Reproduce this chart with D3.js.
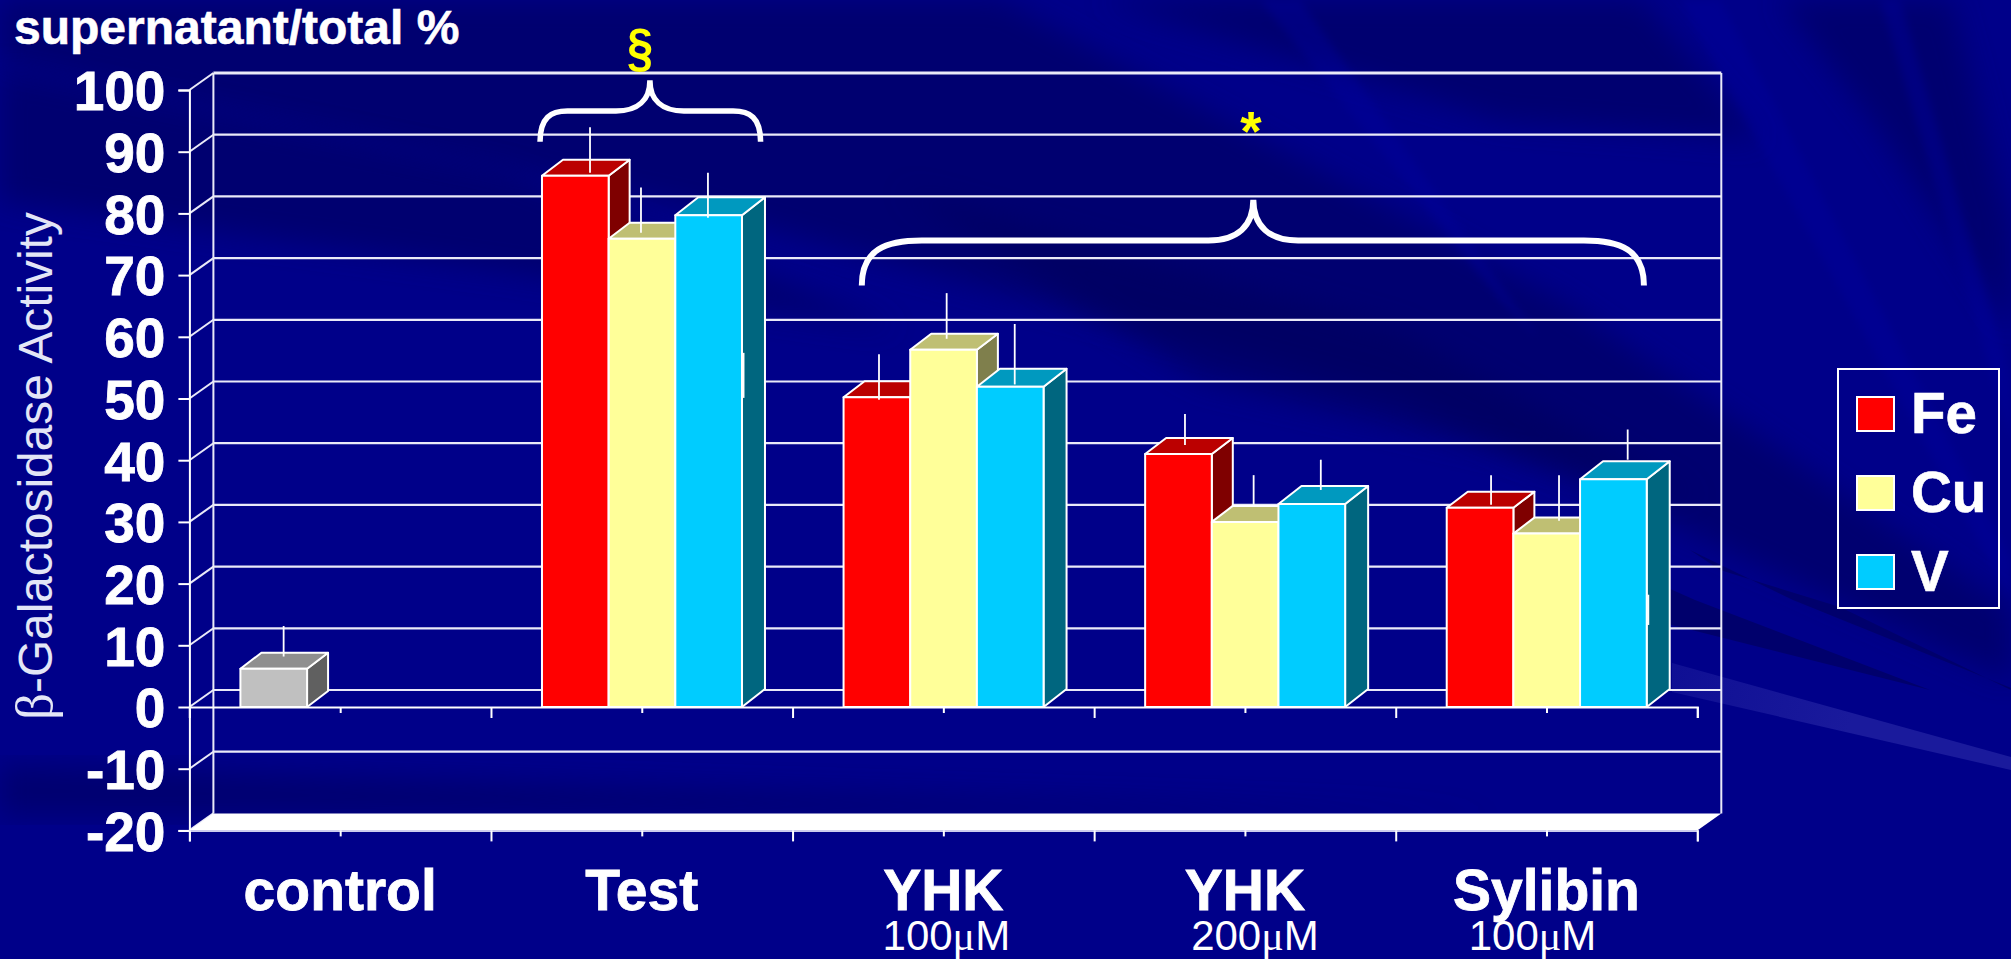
<!DOCTYPE html>
<html><head><meta charset="utf-8">
<script src="https://cdn.jsdelivr.net/npm/d3@7/dist/d3.min.js"></script>
<style>html,body{margin:0;padding:0;background:#000089;overflow:hidden}svg{display:block}text{font-family:"Liberation Sans",Arial,sans-serif}</style>
</head><body><svg id="c" width="2011" height="959"></svg>
<script>
// ---- data ----
const categories = ["control","Test","YHK","YHK ","Sylibin"];
const subLabels = ["","","100","200","100"];
const seriesNames = ["Fe","Cu","V"];
const feValues = [6.2,86.1,50.2,41,32.3];
const cuValues = [null,75.9,57.9,30,28.1];
const vValues  = [null,79.7,51.9,32.9,36.9];
const feHi = [11.75,92.6,55.8,46.1,36.2];
const feLo = [6.8,85.2,48.4,41.1,31.4];
const cuHi = [null,82.8,65.7,36.2,36.2];
const cuLo = [null,75.5,58.3,31.1,28.8];
const vHi  = [null,85.2,60.7,38.7,43.6];
const vLo  = [null,77.9,50.9,33.8,38.7];
const yTicks = [100,90,80,70,60,50,40,30,20,10,0,-10,-20];

// ---- layout ----
const svg = d3.select("#c");
const L=189.4,R=1697.3,Y0=707,K=6.17;
const wallDx=24,wallDy=17;
const depth={Fe:[21,16],Cu:[21,16],V:[23,18]};
const whiskerShift={Fe:[-.6,4.2,-8.4,-4,.5],Cu:[0,-11.5,-7.4,-2,1.8],V:[0,-11.2,-6,-1.5,3.8]};
const y = d3.scaleLinear().domain([-20,100]).range([Y0+20*K,Y0-100*K]);
const x0 = d3.scaleBand().domain(categories).range([L,R]);
const x1 = d3.scaleBand().domain(seriesNames).range([51,251]);
const xi = d3.scaleLinear().domain([0,5]).range([L,R]);
const front = {Fe:"#ff0000",Cu:"#ffff99",V:"#00ccff"};
const top_  = {Fe:"#bb0000",Cu:"#bfbf73",V:"#0099bf"};
const side  = {Fe:"#7f0000",Cu:"#7f7f4c",V:"#00667f"};
const grey  = {f:"#c0c0c0",t:"#8f8f8f",s:"#606060"};
const GRID="#e9e9f8";

// ---- background ----
const defs=svg.append("defs");
defs.append("filter").attr("id","b1").attr("x","-20%").attr("y","-20%").attr("width","140%").attr("height","140%")
  .append("feGaussianBlur").attr("stdDeviation",14);
defs.append("filter").attr("id","b2").attr("x","-20%").attr("y","-20%").attr("width","140%").attr("height","140%")
  .append("feGaussianBlur").attr("stdDeviation",4);
const sg=defs.append("linearGradient").attr("id","streak").attr("gradientUnits","userSpaceOnUse")
  .attr("x1",1660).attr("y1",670).attr("x2",1850).attr("y2",725);
sg.append("stop").attr("offset",0).attr("stop-color","#1a1a9c").attr("stop-opacity",.55);
sg.append("stop").attr("offset",1).attr("stop-color","#1a1a9c").attr("stop-opacity",1);
const bg=svg.append("g");
bg.append("rect").attr("width",2011).attr("height",959).attr("fill","#000089");
const darkShapes=[
 [[0,0],[1000,0],[1560,300],[2011,610],[2011,680],[1400,400],[700,210],[0,60]],
 [[0,70],[500,170],[900,330],[500,270],[0,200]],
 [[900,190],[1400,330],[1700,500],[1500,450],[1200,380]],
 [[0,765],[700,790],[1500,815],[700,815],[0,815]],
 [[1100,0],[1640,0],[1760,140],[1500,120]],
 [[1780,0],[1950,0],[2011,230],[2011,330],[1880,130]]
];
bg.selectAll("path.d").data(darkShapes).join("path").attr("fill","#00005c").attr("opacity",.55)
  .attr("filter","url(#b1)").attr("d",d=>d3.line()(d)+"Z");
const lightShapes=[
 [[1260,0],[1300,0],[1540,340],[1500,300]],
 [[1680,0],[1720,0],[2011,560],[2011,600]],
 [[1880,0],[1900,0],[2011,380],[2011,440]]
];
bg.selectAll("path.l").data(lightShapes).join("path").attr("fill","#0000a0").attr("opacity",.35)
  .attr("filter","url(#b2)").attr("d",d=>d3.line()(d)+"Z");
const crispDark=[
 [[1560,540],[1695,600],[1930,690],[1672,625],[1560,575]],
 [[1690,550],[1793,600],[2011,688],[2011,690],[1840,607],[1720,570]]
];
bg.selectAll("path.c").data(crispDark).join("path").attr("fill","#00006c").attr("d",d=>d3.line()(d)+"Z");
bg.append("path").attr("fill","url(#streak)")
  .attr("d",d3.line()([[1672,663],[2011,757],[2011,770],[1672,692]])+"Z");

// ---- chart walls ----
const g=svg.append("g");
const gl=g.append("g").attr("stroke",GRID).attr("fill","none");
yTicks.forEach(t=>{
  const yy=y(t);
  if(t>-20) gl.append("line").attr("x1",L+wallDx).attr("x2",R+wallDx).attr("y1",yy-wallDy).attr("y2",yy-wallDy).attr("stroke-width",t===100?3.2:2.2);
  gl.append("line").attr("x1",L).attr("x2",L+wallDx).attr("y1",yy).attr("y2",yy-wallDy).attr("stroke-width",2);
});
gl.append("line").attr("x1",L+wallDx).attr("x2",L+wallDx).attr("y1",y(100)-wallDy).attr("y2",y(-20)-wallDy).attr("stroke-width",2);
gl.append("line").attr("x1",R+wallDx).attr("x2",R+wallDx).attr("y1",y(100)-wallDy).attr("y2",y(-20)-wallDy).attr("stroke-width",2);
g.append("path").attr("fill","#ffffff")
  .attr("d",d3.line()([[L,y(-20)],[L+wallDx,y(-20)-wallDy],[R+wallDx,y(-20)-wallDy],[R,y(-20)]])+"Z");

// ---- axes ----
const yAxis=d3.axisLeft(y).tickValues(yTicks).tickSize(11).tickPadding(13).tickFormat(d=>String(d));
const ya=g.append("g").attr("transform",`translate(${L},0)`).call(yAxis);
ya.select(".domain").attr("stroke","#fff").attr("stroke-width",2);
ya.selectAll(".tick line").attr("stroke","#fff").attr("stroke-width",2);
ya.selectAll("text").attr("fill","#fff").attr("font-size",55).attr("font-weight","bold")
  .attr("stroke","#fff").attr("stroke-width",.8)
  .attr("font-family",'"Liberation Sans"').attr("dy","0.36em");
const xTickVals=d3.range(0,5.01,0.5);
[0,-20].forEach(v=>{
  const a=g.append("g").attr("transform",`translate(0,${y(v)})`)
    .call(d3.axisBottom(xi).tickValues(xTickVals).tickSizeOuter(0).tickSize(11).tickFormat(""));
  a.selectAll("text").remove();
  a.select(".domain").attr("stroke",v===0?"#fff":"#ccccee").attr("stroke-width",2);
  a.selectAll(".tick line").attr("stroke","#fff").attr("stroke-width",2)
    .attr("y2",d=>Number.isInteger(d)?11:6);
});

// ---- bars ----
const rows=[];
categories.forEach((c,i)=>{
  [[seriesNames[0],feValues,feHi,feLo],[seriesNames[1],cuValues,cuHi,cuLo],[seriesNames[2],vValues,vHi,vLo]].forEach(([s,vals,hi,lo])=>{
    if(vals[i]!=null) rows.push({c,s,v:vals[i],hi:hi[i],lo:lo[i],ctrl:i===0,shift:whiskerShift[s][i]});
  });
});
const bars=g.append("g").selectAll("g").data(rows).join("g")
  .attr("stroke","#fff").attr("stroke-width",2).attr("stroke-linejoin","round");
const bx=d=>x0(d.c)+x1(d.s), bw=x1.bandwidth();
bars.append("path").attr("fill",d=>d.ctrl?grey.s:side[d.s]).attr("d",d=>{
  const X=bx(d)+bw,T=y(d.v),B=y(0),[dx,dy]=depth[d.s];
  return d3.line()([[X,T],[X+dx,T-dy],[X+dx,B-dy],[X,B]])+"Z";});
bars.append("path").attr("fill",d=>d.ctrl?grey.t:top_[d.s]).attr("d",d=>{
  const X=bx(d),T=y(d.v),[dx,dy]=depth[d.s];
  return d3.line()([[X,T],[X+dx,T-dy],[X+bw+dx,T-dy],[X+bw,T]])+"Z";});
bars.append("rect").attr("fill",d=>d.ctrl?grey.f:front[d.s])
  .attr("x",bx).attr("width",bw).attr("y",d=>y(d.v)).attr("height",d=>y(0)-y(d.v));
// whiskers
const wx=d=>bx(d)+bw/2+10.5+d.shift;
g.append("g").selectAll("line").data(rows).join("line")
  .attr("stroke","#fff").attr("stroke-width",1.8)
  .attr("x1",wx).attr("x2",wx)
  .attr("y1",d=>y(d.hi)-wallDy/2).attr("y2",d=>y(d.lo)-wallDy/2);

// stray short marks on the V bars
const strayCats=["Test","Sylibin"], strayHi=[57.4,18.2], strayLo=[50.1,13.3];
g.append("g").selectAll("line").data(strayCats).join("line").attr("stroke","#fff").attr("stroke-width",2)
  .attr("x1",d=>x0(d)+x1("V")+bw+1.5).attr("x2",d=>x0(d)+x1("V")+bw+1.5)
  .attr("y1",(d,i)=>y(strayHi[i])).attr("y2",(d,i)=>y(strayLo[i]));

// ---- labels ----
const W="#ffffff";
svg.append("text").attr("x",14).attr("y",44).attr("fill",W).attr("stroke",W).attr("stroke-width",.6).attr("font-size",48).attr("font-weight","bold").text("supernatant/total %");
const yt=svg.append("text").attr("transform","translate(52,720) rotate(-90)").attr("fill","#e3e6f6").attr("font-size",47.8);
yt.append("tspan").attr("font-family",'"Liberation Serif"').attr("font-size",53).text("β");
yt.append("tspan").text("-Galactosidase Activity");
svg.append("g").selectAll("text").data(categories).join("text")
  .attr("x",d=>x0(d)+x0.bandwidth()/2).attr("y",910).attr("text-anchor","middle")
  .attr("fill",W).attr("stroke",W).attr("stroke-width",.8).attr("font-size",57).attr("font-weight","bold").text(d=>d.trim());
const subOffset=[0,0,3,10,-14];
const sub=svg.append("g").selectAll("text").data(categories.map((c,i)=>({c,t:subLabels[i],o:subOffset[i]})).filter(d=>d.t)).join("text")
  .attr("x",d=>x0(d.c)+x0.bandwidth()/2+d.o).attr("y",950).attr("text-anchor","middle").attr("fill",W).attr("font-size",42);
sub.append("tspan").text(d=>d.t);
sub.append("tspan").attr("font-family",'"Liberation Serif"').text("μ");
sub.append("tspan").text("M");

// ---- annotations ----
svg.append("text").attr("transform",`translate(${xi(1.494)},66) scale(1,1.15)`).attr("text-anchor","middle").attr("fill","#ffff00").attr("font-size",47).attr("font-weight","bold").text("§");
svg.append("text").attr("x",xi(3.52)).attr("y",150).attr("text-anchor","middle").attr("fill","#ffff00").attr("font-size",55).attr("font-weight","bold").text("*");
function brace(a,m,b,endV,midV,peakV){
  const xa=xi(a),xm=xi(m),xb=xi(b),ye=y(endV),yh=y(midV),yp=y(peakV);
  const r=Math.min((xm-xa)/4,60),q=yh-yp;
  const p=d3.path();
  p.moveTo(xa,ye);
  p.bezierCurveTo(xa,yh+(ye-yh)*.2,xa+r*.4,yh,xa+r,yh);
  p.lineTo(xm-q*1.1,yh);
  p.bezierCurveTo(xm-q*.4,yh,xm,yh-q*.35,xm,yp);
  p.bezierCurveTo(xm,yh-q*.35,xm+q*.4,yh,xm+q*1.1,yh);
  p.lineTo(xb-r,yh);
  p.bezierCurveTo(xb-r*.4,yh,xb,yh+(ye-yh)*.2,xb,ye);
  return p.toString();
}
const braceG=svg.append("g").attr("fill","none").attr("stroke","#fff");
braceG.append("path").attr("stroke-width",5.5).attr("d",brace(1.1626,1.527,1.894,91.6,96.6,101.6));
braceG.append("path").attr("stroke-width",6).attr("d",brace(2.2296,3.5278,4.823,68.3,75.6,82.2));

// ---- legend ----
const leg=svg.append("g");
const legY=d3.scalePoint().domain(seriesNames).range([397,555]);
leg.append("rect").attr("x",1838).attr("y",369).attr("width",161).attr("height",239).attr("fill","none").attr("stroke","#fff").attr("stroke-width",2);
const li=leg.selectAll("g").data(seriesNames).join("g").attr("transform",d=>`translate(0,${legY(d)})`);
li.append("rect").attr("x",1857).attr("width",37).attr("height",34).attr("fill",d=>front[d]).attr("stroke","#fff").attr("stroke-width",2);
li.append("text").attr("x",1911).attr("y",35.5).attr("fill",W).attr("stroke",W).attr("stroke-width",.6).attr("font-size",56.5).attr("font-weight","bold").text(d=>d);
</script></body></html>
